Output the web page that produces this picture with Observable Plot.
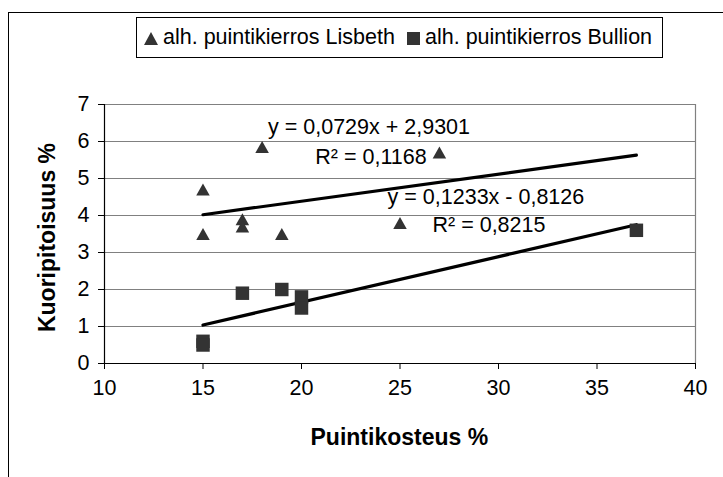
<!DOCTYPE html>
<html>
<head>
<meta charset="utf-8">
<script src="https://cdn.jsdelivr.net/npm/d3@7"></script>
<script src="https://cdn.jsdelivr.net/npm/@observablehq/plot@0.6"></script>
<style>
  html, body { margin: 0; padding: 0; background: #fff; }
  #wrap { position: relative; width: 723px; height: 477px; overflow: hidden; font-family: "Liberation Sans", Arial, sans-serif; }
  #frame { position: absolute; left: 8px; top: 12px; width: 800px; height: 600px; border-left: 1px solid #000; border-top: 1px solid #000; }
  #legend { position: absolute; left: 136px; top: 17px; width: 527px; height: 41px; border: 1px solid #000; box-sizing: border-box; font-size: 21.5px; color: #000; }
  #legend .item { position: absolute; top: 0; height: 39px; line-height: 39px; white-space: nowrap; }
  #legend svg { vertical-align: -1px; margin-right: 5px; }
  .title { position: absolute; font-weight: bold; font-size: 23px; white-space: nowrap; color: #000; }
  #plot { position: absolute; left: 0; top: 0; }
</style>
</head>
<body>
<div id="wrap">
  <div id="frame"></div>
  <div id="plot"></div>
  <div id="legend"></div>
  <div class="title" id="xtitle">Puintikosteus %</div>
  <div class="title" id="ytitle">Kuoripitoisuus %</div>
</div>
<script>
// ---- data ----
const seriesNames = ["alh. puintikierros Lisbeth", "alh. puintikierros Bullion"];
const lisbethX = [15, 15, 17, 17, 18, 19, 25, 27];
const lisbethY = [4.7, 3.5, 3.9, 3.7, 5.85, 3.5, 3.8, 5.7];
const bullionX = [15, 15, 17, 19, 20, 20, 37];
const bullionY = [0.6, 0.5, 1.9, 2.0, 1.8, 1.5, 3.6];
const trendX = [15, 37];
const lisbethTrendY = [4.02, 5.63];
const bullionTrendY = [1.04, 3.75];
const equations = ["y = 0,0729x + 2,9301", "R² = 0,1168", "y = 0,1233x - 0,8126", "R² = 0,8215"];
const eqX = [18.3, 20.7, 24.37, 26.65];
const eqY = [6.38, 5.57, 4.49, 3.73];
const xTicks = [10, 15, 20, 25, 30, 35, 40];
const yTicks = [0, 1, 2, 3, 4, 5, 6, 7];

const lisbeth = lisbethX.map((x, i) => ({x, y: lisbethY[i]}));
const bullion = bullionX.map((x, i) => ({x, y: bullionY[i]}));
const lTrend = trendX.map((x, i) => ({x, y: lisbethTrendY[i]}));
const bTrend = trendX.map((x, i) => ({x, y: bullionTrendY[i]}));
const notes = equations.map((t, i) => ({t, x: eqX[i], y: eqY[i]}));

// triangle centred on its bounding box
const tri = {
  draw(ctx, size) {
    const r = Math.sqrt(size / Math.PI);
    const hw = r * 1.3, hh = r * 1.15;
    ctx.moveTo(0, -hh);
    ctx.lineTo(hw, hh);
    ctx.lineTo(-hw, hh);
    ctx.closePath();
  }
};

const markColor = "#333333";
const fs = 21.5;
const chart = Plot.plot({
  width: 723,
  height: 477,
  marginLeft: 104,
  marginRight: 28,
  marginTop: 104,
  marginBottom: 114,
  style: { fontFamily: "'Liberation Sans', Arial, sans-serif", fontSize: fs + "px", color: "#000", background: "transparent", overflow: "visible" },
  x: { domain: [10, 40] },
  y: { domain: [0, 7] },
  marks: [
    Plot.ruleY(yTicks.filter(d => d > 0), { stroke: "#808080", strokeWidth: 1.2 }),
    Plot.ruleX([40], { stroke: "#808080", strokeWidth: 1.2 }),
    Plot.axisX({ ticks: xTicks, tickSize: 6, tickPadding: 10, tickFormat: d => String(d), label: null, fontSize: fs, stroke: "#000" }),
    Plot.axisY({ ticks: yTicks, tickSize: 6, tickPadding: 9, tickFormat: d => String(d), label: null, fontSize: fs, stroke: "#000" }),
    Plot.ruleY([0], { stroke: "#000", strokeWidth: 1.2 }),
    Plot.ruleX([10], { stroke: "#000", strokeWidth: 1.2 }),
    Plot.line(lTrend, { x: "x", y: "y", stroke: "#000", strokeWidth: 3.2 }),
    Plot.line(bTrend, { x: "x", y: "y", stroke: "#000", strokeWidth: 3.2 }),
    Plot.dot(lisbeth, { x: "x", y: "y", symbol: tri, r: 5.2, fill: markColor, stroke: "none" }),
    Plot.dot(bullion, { x: "x", y: "y", symbol: "square", r: 7.6, fill: markColor, stroke: "none" }),
    Plot.text(notes, { x: "x", y: "y", text: "t", textAnchor: "start", fontSize: fs, fill: "#000" })
  ]
});
document.getElementById("plot").appendChild(chart);

// legend
const legend = document.getElementById("legend");
const triSvg = '<svg width="14" height="13" viewBox="0 0 14 13"><path d="M7 0 L14 13 L0 13 Z" fill="' + markColor + '"/></svg>';
const sqSvg = '<svg width="13" height="13" viewBox="0 0 13 13"><rect width="13" height="13" fill="' + markColor + '"/></svg>';
const items = [[triSvg, seriesNames[0], 7], [sqSvg, seriesNames[1], 270]];
for (const [sym, name, left] of items) {
  const d = document.createElement("div");
  d.className = "item";
  d.style.left = left + "px";
  d.innerHTML = sym + name;
  legend.appendChild(d);
}

// axis titles
const xt = document.getElementById("xtitle");
xt.style.left = (399.5 - xt.offsetWidth / 2) + "px";
xt.style.top = (437 - xt.offsetHeight / 2) + "px";
const yt = document.getElementById("ytitle");
yt.style.left = (47.5 - yt.offsetWidth / 2) + "px";
yt.style.top = (237 - yt.offsetHeight / 2) + "px";
yt.style.transform = "rotate(-90deg)";
</script>
</body>
</html>
